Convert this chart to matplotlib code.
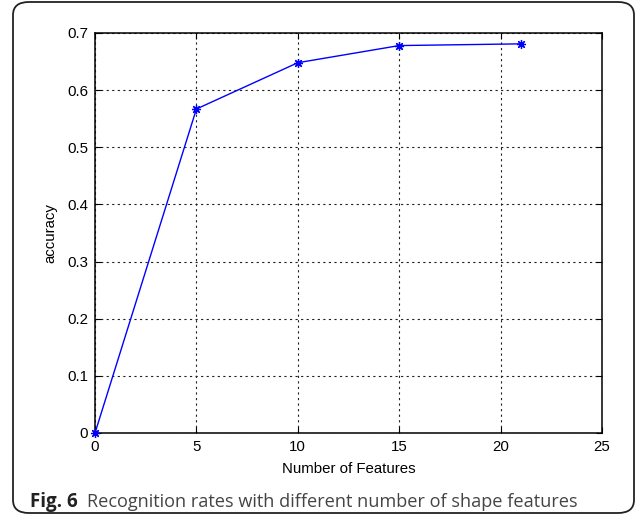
import matplotlib
matplotlib.use("Agg")
import matplotlib.pyplot as plt
from matplotlib.patches import FancyBboxPatch

# ── data ─────────────────────────────────────────────────────────────────────
n_features = [0, 5, 10, 15, 21]
accuracy = [0.0, 0.567, 0.648, 0.678, 0.681]
x_ticks = [0, 5, 10, 15, 20, 25]
y_ticks = [0, 0.1, 0.2, 0.3, 0.4, 0.5, 0.6, 0.7]
y_ticklabels = ["0", "0.1", "0.2", "0.3", "0.4", "0.5", "0.6", "0.7"]

W, H = 637, 521
fig = plt.figure(figsize=(W / 100, H / 100), dpi=100)
fig.patch.set_facecolor("white")

# rounded outer frame
frame = FancyBboxPatch((13 / W, 8 / H), 621 / W, 511 / H,
                       boxstyle="round,pad=0,rounding_size=0.025",
                       transform=fig.transFigure, linewidth=1.3,
                       edgecolor="#222222", facecolor="none", zorder=0)
fig.patches.append(frame)

ax = fig.add_axes([95 / W, 1 - 433 / H, 507 / W, 400 / H])
# MATLAB-style asterisk marker (+ and x combined)
ax.plot(n_features, accuracy, color="#0000ff", lw=1.0, marker=(8, 2, 0),
        markersize=6.5, markeredgewidth=0.9, clip_on=False, zorder=3)

ax.set_xlim(0, 25)
ax.set_ylim(0, 0.7)
ax.set_xticks(x_ticks)
ax.set_yticks(y_ticks)
ax.set_yticklabels(y_ticklabels)

tick_font = dict(family="Liberation Sans", size=10.8)
for lab in ax.get_xticklabels() + ax.get_yticklabels():
    lab.set_fontfamily("Liberation Sans")
    lab.set_fontsize(10.8)

ax.tick_params(direction="in", length=4, width=0.8, top=True, right=True,
               colors="black", pad=5)
ax.grid(True, color="#222222", linestyle=(0, (2, 3)), linewidth=0.8)
for s in ax.spines.values():
    s.set_linewidth(1.1)

ax.set_xlabel("Number of Features", fontdict=tick_font, labelpad=6)
ax.set_ylabel("accuracy", fontdict=tick_font, labelpad=7)

# caption
fig.text(30 / W, 1 - 502 / H, "Fig. 6", fontfamily="Open Sans",
         fontweight="bold", fontsize=13.5, color="#222222", va="center")
fig.text(87 / W, 1 - 502 / H,
         "Recognition rates with different number of shape features",
         fontfamily="Open Sans", fontsize=13.1, color="#444444", va="center")

fig.savefig("out.png", dpi=100, facecolor="white")
